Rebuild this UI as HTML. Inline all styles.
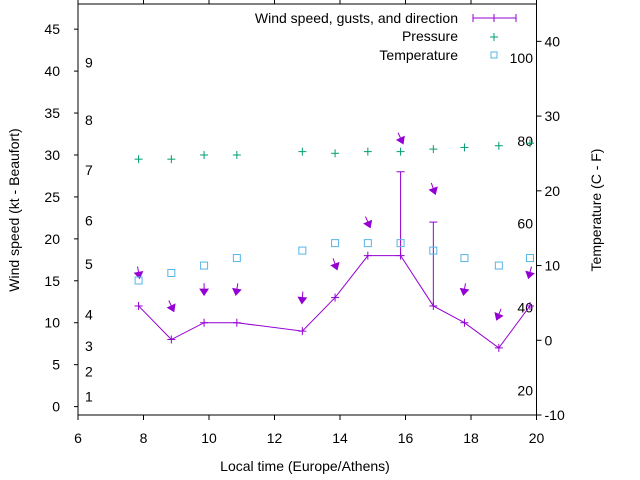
<!DOCTYPE html>
<html><head><meta charset="utf-8"><style>
body{margin:0;background:#fff}
svg{display:block;font-family:"Liberation Sans",sans-serif}
</style></head><body>
<svg id="chart" width="640" height="480" viewBox="0 0 640 480" xmlns="http://www.w3.org/2000/svg">
<g id="axes"></g>
<g id="marks"></g>
<text x="305" y="471" font-size="14" text-anchor="middle">Local time (Europe/Athens)</text>
<text transform="translate(19,210) rotate(-90)" font-size="14" text-anchor="middle">Wind speed (kt - Beaufort)</text>
<text transform="translate(601,210) rotate(-90)" font-size="14" text-anchor="middle">Temperature (C - F)</text>
<g font-size="14" text-anchor="end">
<text x="458" y="23">Wind speed, gusts, and direction</text>
<text x="458" y="41">Pressure</text>
<text x="458" y="60">Temperature</text>
<g stroke="#9400d3" stroke-width="1"><line x1="473" y1="18" x2="516" y2="18"/><line x1="473" y1="14" x2="473" y2="22"/><line x1="516" y1="14" x2="516" y2="22"/><line x1="494" y1="14" x2="494" y2="22"/></g>
<g stroke="#009e73"><line x1="490" y1="37" x2="498" y2="37"/><line x1="494" y1="33" x2="494" y2="41"/></g>
<rect x="491" y="52" width="6" height="6" fill="none" stroke="#56b4e9"/>
</g>
</svg>
<script>
const times=[7.85,8.85,9.85,10.85,12.85,13.85,14.85,15.85,16.85,17.8,18.85,19.8];
const speed=[12,8,10,10,9,13,18,18,12,10,7,12];
const gust=[12,8,10,10,9,13,18,28,22,10,7,12];
const dirFrom=[350,335,0,10,5,340,337,335,340,10,22,15];
const pressure=[29.5,29.5,30,30,30.4,30.2,30.4,30.4,30.7,30.9,31.1,31.4];
const temperature=[8,9,10,11,12,13,13,13,12,11,10,11];
const xTicks=[6,8,10,12,14,16,18,20];
const yTicks=[0,5,10,15,20,25,30,35,40,45];
const y2Ticks=[-10,0,10,20,30,40];
const beaufort=["1","2","3","4","5","6","7","8","9"];
const beaufortKt=[1.2,4.2,7.2,11,17,22.2,28.2,34.2,41];
const fahrenheit=["20","40","60","80","100"];
const fahrenheitC=[-6.7,4.4,15.6,26.7,37.8];

const L=78,R=536.5,T=4,B=415;
const X=v=>L+(v-6)/14*(R-L);
const Y=v=>B-(v+1)/49*(B-T);
const Y2=v=>B-(v+10)/55*(B-T);
const NS="http://www.w3.org/2000/svg";
function mk(tag,parent,attrs){const e=document.createElementNS(NS,tag);for(const k in attrs)e.setAttribute(k,attrs[k]);parent.appendChild(e);return e;}
const ax=document.getElementById('axes'),mg=document.getElementById('marks');
let e=mk('rect',ax,{x:L,y:T,width:R-L,height:B-T,fill:'none',stroke:'#000'});


xTicks.forEach(t=>{
 mk('line',ax,{x1:X(t),x2:X(t),y1:B,y2:B+5,stroke:'#000'});
 mk('line',ax,{x1:X(t),x2:X(t),y1:T,y2:T-5,stroke:'#000'});
 const tx=mk('text',ax,{x:X(t),y:B+28,'font-size':14,'text-anchor':'middle'});tx.textContent=t;
 
 
});
yTicks.forEach(t=>{
 mk('line',ax,{x1:L-4,x2:L,y1:Y(t),y2:Y(t),stroke:'#000'});
 const tx=mk('text',ax,{x:L-18,y:Y(t)+5,'font-size':14,'text-anchor':'end'});tx.textContent=t;
 
 
});
y2Ticks.forEach(t=>{
 mk('line',ax,{x1:R,x2:R+5,y1:Y2(t),y2:Y2(t),stroke:'#000'});
 const tx=mk('text',ax,{x:R+8,y:Y2(t)+5,'font-size':14});tx.textContent=t;
 
 
});
beaufort.forEach((b,i)=>{
 const tx=mk('text',ax,{x:85,y:Y(beaufortKt[i])+5,'font-size':14});tx.textContent=b;
 
 
});
fahrenheit.forEach((f,i)=>{
 const tx=mk('text',ax,{x:533,y:Y2(fahrenheitC[i])+5,'font-size':14,'text-anchor':'end'});tx.textContent=f;
 
 
});
// wind line
const pl=mk('polyline',mg,{points:times.map((t,i)=>X(t)+','+Y(speed[i])).join(' '),fill:'none',stroke:'#9400d3'});


times.forEach((t,i)=>{
 const g=mk('g',mg,{stroke:'#9400d3',fill:'#9400d3'});
 
 
 const x=X(t),y=Y(speed[i]);
 mk('line',g,{x1:x-4,x2:x+4,y1:y,y2:y});mk('line',g,{x1:x,x2:x,y1:y-4,y2:y+4});
 if(gust[i]>speed[i]){const yg=Y(gust[i]);mk('line',g,{x1:x,x2:x,y1:y,y2:yg});mk('line',g,{x1:x-4,x2:x+4,y1:yg,y2:yg});}
 // direction arrow
 const to=(dirFrom[i]+180)*Math.PI/180,dx=Math.sin(to),dy=-Math.cos(to);
 const cy=Y(gust[i]+4),hx=x+dx*6,hy=cy+dy*6,tx0=x-dx*6,ty0=cy-dy*6;
 mk('line',g,{x1:tx0,y1:ty0,x2:hx,y2:hy});
 const px=-dy,py=dx;
 mk('polygon',g,{points:`${hx},${hy} ${hx-dx*6+px*4},${hy-dy*6+py*4} ${hx-dx*6-px*4},${hy-dy*6-py*4}`});
});
pressure.forEach((p,i)=>{
 const x=X(times[i]),y=Y(p);
 const g=mk('g',mg,{stroke:'#009e73'});
 
 
 mk('line',g,{x1:x-4,x2:x+4,y1:y,y2:y});mk('line',g,{x1:x,x2:x,y1:y-4,y2:y+4});
});
temperature.forEach((v,i)=>{
 const r=mk('rect',mg,{x:X(times[i])-3.5,y:Y2(v)-3.5,width:7,height:7,fill:'none',stroke:'#56b4e9'});
 
 
});
</script>
</body></html>
